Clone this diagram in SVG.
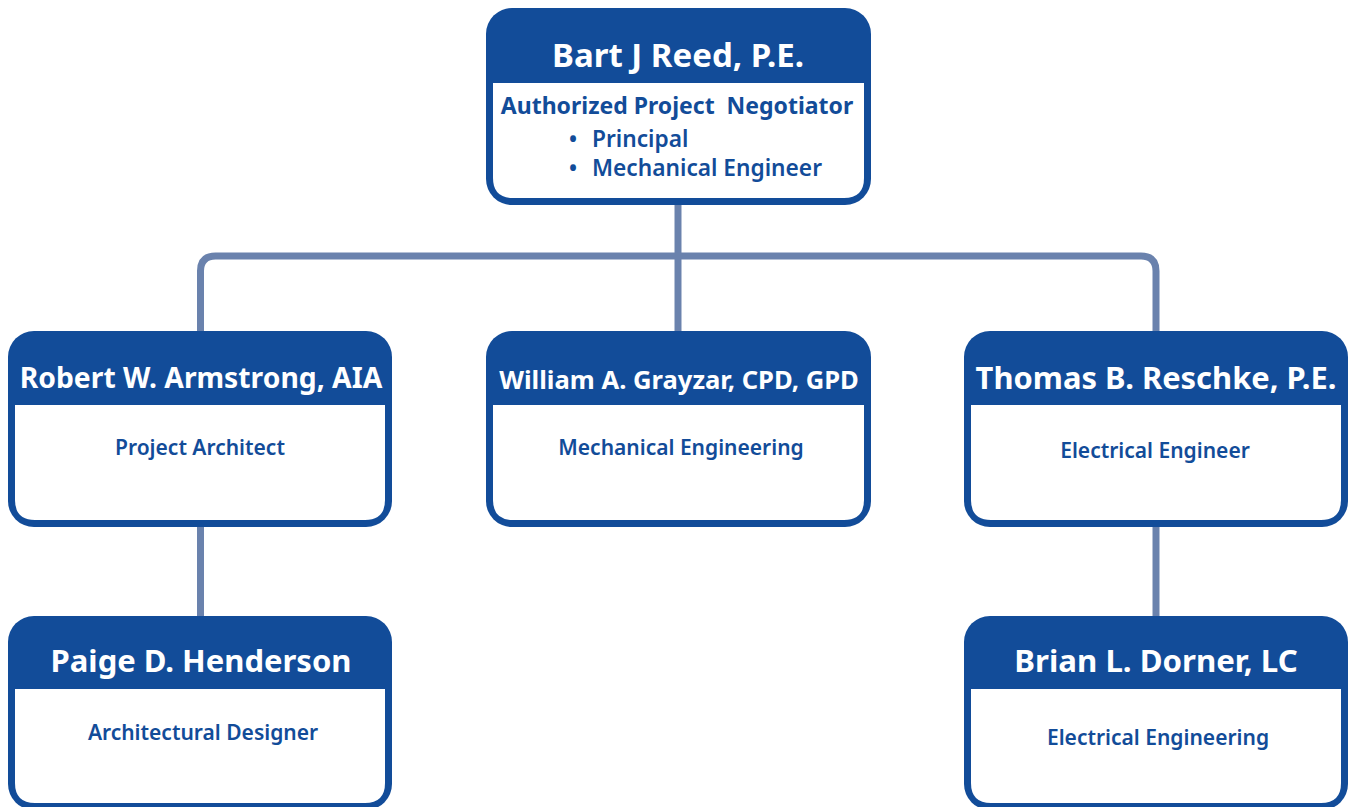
<svg xmlns="http://www.w3.org/2000/svg" width="1349" height="807" viewBox="0 0 1349 807">
<style>
.outer{fill:#124c99}
.inner{fill:#ffffff}
.name{font-family:"Noto Sans","Open Sans",sans-serif;font-weight:700;fill:#ffffff;text-anchor:middle}
.role{font-family:"Noto Sans","Open Sans",sans-serif;font-weight:600;fill:#124c99;text-anchor:middle;font-size:21px}
.conn{fill:none;stroke:#6a82ad;stroke-width:7}
</style>
<rect width="1349" height="807" fill="#ffffff"/>
<g id="connectors">
<path class="conn" d="M678 204 V331"/>
<path class="conn" d="M200.5 331 V271 Q200.5 256 215.5 256 H1141 Q1156 256 1156 271 V331"/>
<path class="conn" d="M200.5 527 V616"/>
<path class="conn" d="M1156 527 V616"/>
</g>
<g id="node-reed">
<rect class="outer" x="486" y="8" width="385" height="197" rx="26"/>
<path class="inner" d="M493 83 H864 V178 Q864 198 844 198 H513 Q493 198 493 178 Z"/>
<text class="name" x="678" y="67" font-size="33">Bart J Reed, P.E.</text>
<text class="role" x="677" y="114" style="font-weight:700;font-size:23px" xml:space="preserve">Authorized Project  Negotiator</text>
<text class="role" x="573" y="147" style="font-size:22.7px">•</text>
<text class="role" x="592" y="147" style="text-anchor:start;font-size:22.7px">Principal</text>
<text class="role" x="573" y="176" style="font-size:22.7px">•</text>
<text class="role" x="592" y="176" style="text-anchor:start;font-size:22.7px">Mechanical Engineer</text>
</g>
<g id="node-armstrong">
<rect class="outer" x="8" y="331" width="384" height="196" rx="26"/>
<path class="inner" d="M15 405 H385 V500 Q385 520 365 520 H35 Q15 520 15 500 Z"/>
<text class="name" x="201" y="388" font-size="28.3">Robert W. Armstrong, AIA</text>
<text class="role" x="200" y="455">Project Architect</text>
</g>
<g id="node-grayzar">
<rect class="outer" x="486" y="331" width="385" height="196" rx="26"/>
<path class="inner" d="M493 405 H864 V500 Q864 520 844 520 H513 Q493 520 493 500 Z"/>
<text class="name" x="679" y="389" font-size="25.6">William A. Grayzar, CPD, GPD</text>
<text class="role" x="681" y="455">Mechanical Engineering</text>
</g>
<g id="node-reschke">
<rect class="outer" x="964" y="331" width="384" height="196" rx="26"/>
<path class="inner" d="M971 405 H1341 V500 Q1341 520 1321 520 H991 Q971 520 971 500 Z"/>
<text class="name" x="1156" y="389" font-size="30.9">Thomas B. Reschke, P.E.</text>
<text class="role" x="1155" y="458">Electrical Engineer</text>
</g>
<g id="node-henderson">
<rect class="outer" x="8" y="616" width="384" height="194" rx="26"/>
<path class="inner" d="M15 689 H385 V783 Q385 803 365 803 H35 Q15 803 15 783 Z"/>
<text class="name" x="201" y="672" font-size="31">Paige D. Henderson</text>
<text class="role" x="203" y="740">Architectural Designer</text>
</g>
<g id="node-dorner">
<rect class="outer" x="964" y="616" width="384" height="194" rx="26"/>
<path class="inner" d="M971 689 H1341 V783 Q1341 803 1321 803 H991 Q971 803 971 783 Z"/>
<text class="name" x="1156" y="672" font-size="31.2">Brian L. Dorner, LC</text>
<text class="role" x="1158" y="745">Electrical Engineering</text>
</g>
</svg>
